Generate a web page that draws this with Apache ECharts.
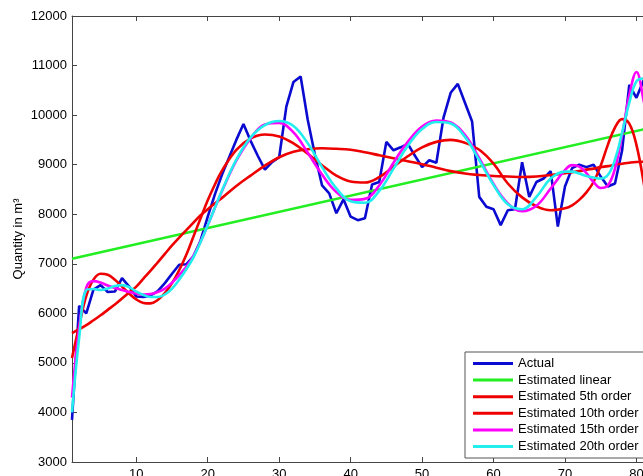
<!DOCTYPE html>
<html><head><meta charset="utf-8">
<script src="https://cdn.jsdelivr.net/npm/echarts@6/dist/echarts.min.js"></script>
<style>html,body{margin:0;padding:0;background:#fff}#c{width:643px;height:476px}</style>
</head><body><div id="c"></div>
<script>
// ---- data ----
const actualY = [3850,6150,6000,6480,6570,6430,6440,6710,6540,6340,6330,6360,6450,6610,6800,6980,6990,7150,7470,7950,
  8400,8800,9150,9500,9820,9480,9180,8900,9050,9150,10170,10670,10780,9900,9200,8580,8420,8020,8300,7950,
  7880,7920,8600,8650,9460,9290,9350,9420,9180,8950,9090,9040,9950,10450,10630,10250,9870,8350,8150,8100,
  7780,8080,8100,9050,8350,8650,8720,8870,7750,8560,8930,9000,8950,9000,8760,8560,8620,9290,10610,10350,10700,10500];
const linX = [1, 84];
const linY = [7100, 9810];
const fitX = [1,2,3,4,5,6,7,8,9,10,11,12,13,14,15,16,17,18,19,20,21,22,
  24,26,28,30,32,34,36,38,40,42,44,46,48,50,52,54,56,58,60,62,64,66,68,70,
  71,72,73,74,75,76,77,78,79,80,81,82];
const fit5 = [5600,5680,5760,5860,5960,6070,6180,6300,6420,6540,6700,6860,7030,7200,7370,7530,7680,7830,7980,8100,8220,8330,
  8570,8780,8980,9150,9260,9310,9330,9320,9300,9250,9190,9130,9070,9010,8940,8870,8820,8790,8770,8760,8750,8760,8790,8830,
  8850,8870,8900,8920,8950,8970,9000,9020,9040,9055,9060,9060];
const fit10 = [5100,5750,6350,6680,6800,6780,6680,6540,6400,6280,6210,6200,6270,6410,6610,6870,7180,7550,7920,8280,8600,8880,
  9300,9530,9610,9570,9430,9220,8990,8780,8660,8640,8750,8960,9170,9350,9460,9500,9440,9300,9020,8620,8340,8160,8080,8120,
  8180,8290,8440,8650,8980,9400,9750,9920,9830,9400,8650,7700];
const fit15 = [4300,5700,6520,6650,6620,6560,6510,6470,6430,6400,6380,6390,6430,6500,6620,6770,6940,7160,7450,7780,8130,8470,
  9080,9530,9810,9840,9650,9240,8800,8450,8290,8310,8580,9040,9460,9770,9890,9850,9600,9130,8610,8220,8060,8170,8520,8890,
  8990,8960,8830,8650,8530,8580,8920,9600,10400,10870,10300,9500];
const fit20 = [4000,5500,6470,6490,6470,6500,6550,6570,6530,6440,6370,6330,6330,6380,6500,6680,6890,7130,7440,7780,8130,8480,
  9100,9550,9800,9880,9780,9430,8950,8520,8260,8230,8470,8920,9380,9720,9860,9830,9560,9090,8590,8200,8100,8350,8720,8860,
  8860,8820,8770,8740,8720,8790,9100,9650,10250,10680,10740,10600];
const xTicks = [10,20,30,40,50,60,70,80];
const seriesNames = ['Actual','Estimated linear','Estimated 5th order','Estimated 10th order','Estimated 15th order','Estimated 20th order'];

const pairs = (xs, ys) => ys.map((v, i) => [xs[i], v]);
const actualX = actualY.map((_, i) => i + 1);

const FONT = 'Liberation Sans, Arial, sans-serif';
const AX = '#444';
const chart = echarts.init(document.getElementById('c'), null, {renderer: 'canvas'});
const lineSeries = (name, data, color, smooth) => ({
  name, type: 'line', data, showSymbol: false, symbol: 'none', smooth: smooth, animation: false,
  lineStyle: {color, width: 2.6}, itemStyle: {color}, xAxisIndex: 0, yAxisIndex: 0, z: 2
});
chart.setOption({
  animation: false,
  backgroundColor: '#fff',
  textStyle: {fontFamily: FONT},
  grid: {left: 72, top: 16, width: 593, height: 446, containLabel: false, outerBoundsMode: 'none'},
  xAxis: [{
    type: 'value', min: 1, max: 84, position: 'bottom',
    axisLine: {show: true, onZero: false, lineStyle: {color: AX, width: 1}},
    axisTick: {show: true, inside: true, length: 5, customValues: xTicks, lineStyle: {color: AX}},
    axisLabel: {show: true, customValues: xTicks, margin: 6, color: '#000', fontSize: 13, fontFamily: FONT},
    splitLine: {show: false}
  }, {
    type: 'value', min: 1, max: 84, position: 'top',
    axisLine: {show: true, onZero: false, lineStyle: {color: AX, width: 1}},
    axisTick: {show: true, inside: true, length: 5, customValues: xTicks, lineStyle: {color: AX}},
    axisLabel: {show: false},
    splitLine: {show: false}
  }],
  yAxis: [{
    type: 'value', min: 3000, max: 12000, interval: 1000,
    name: 'Quantity in m³', nameLocation: 'middle', nameGap: 47, nameRotate: 90, nameMoveOverlap: false,
    nameTextStyle: {color: '#000', fontSize: 13, fontFamily: FONT},
    axisLine: {show: true, onZero: false, lineStyle: {color: AX, width: 1}},
    axisTick: {show: true, inside: true, length: 5, lineStyle: {color: AX}},
    axisLabel: {color: '#000', fontSize: 13, margin: 5, fontFamily: FONT, formatter: v => String(v)},
    splitLine: {show: false}
  }],
  legend: {
    show: true, orient: 'vertical', left: 465, top: 352,
    data: seriesNames,
    icon: 'rect', itemWidth: 40, itemHeight: 3, itemGap: 1.6,
    backgroundColor: '#fff', borderColor: '#555', borderWidth: 1,
    padding: [4, 30, 4, 8],
    textStyle: {color: '#000', fontSize: 13, fontFamily: FONT, lineHeight: 15}
  },
  series: [
    lineSeries(seriesNames[0], pairs(actualX, actualY), '#0a0ad0', false),
    lineSeries(seriesNames[1], pairs(linX, linY), '#22ee22', false),
    lineSeries(seriesNames[2], pairs(fitX, fit5), '#ee0000', 0.4),
    lineSeries(seriesNames[3], pairs(fitX, fit10), '#ee0000', 0.4),
    lineSeries(seriesNames[4], pairs(fitX, fit15), '#ff00ff', 0.4),
    lineSeries(seriesNames[5], pairs(fitX, fit20), '#22eeee', 0.4)
  ]
});
</script></body></html>
